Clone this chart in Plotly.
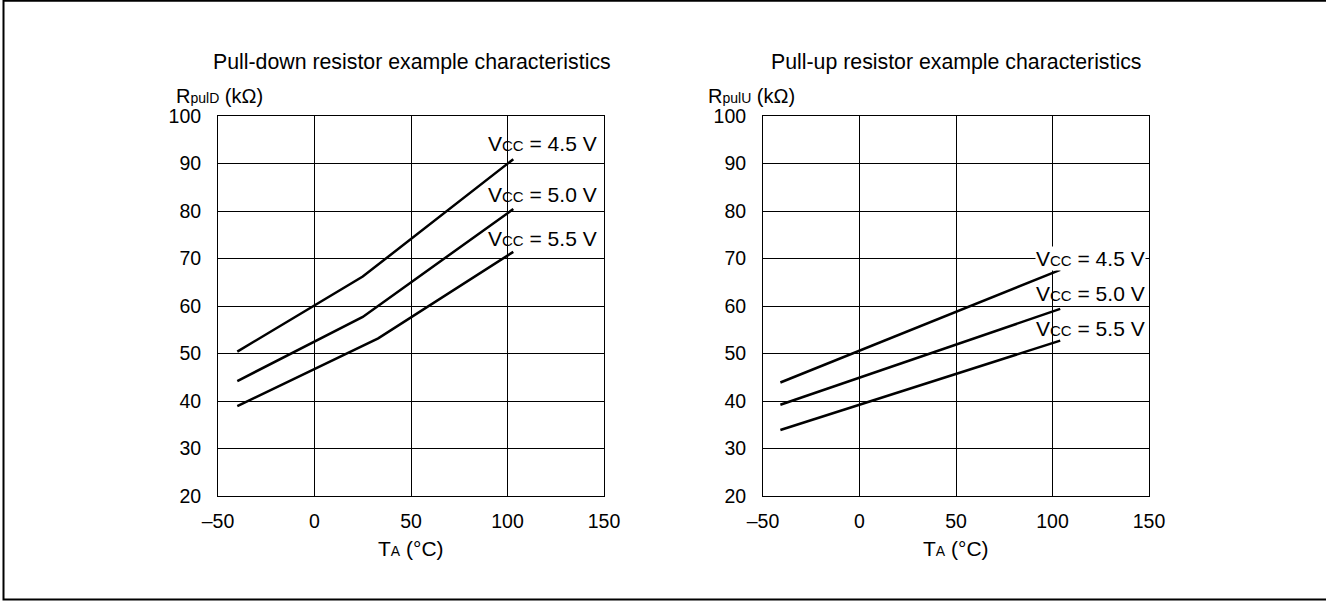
import plotly.graph_objects as go

W, H = 1326, 601

# ---- data ----
pd_temp_45 = [-40, 25, 103]
pd_res_45 = [50.4, 66.2, 90.9]
pd_temp_50 = [-40, 25, 103]
pd_res_50 = [44.2, 57.7, 80.4]
pd_temp_55 = [-40, 33, 103]
pd_res_55 = [38.9, 53.2, 71.4]

pu_temp = [-41, 104]
pu_res_45 = [43.9, 67.6]
pu_res_50 = [39.2, 59.4]
pu_res_55 = [33.9, 52.7]

x_tickvals = [-50, 0, 50, 100, 150]
x_ticktext = ["\u201350", "0", "50", "100", "150"]
y_tickvals = [20, 30, 40, 50, 60, 70, 80, 90, 100]

vcc_labels = ["4.5", "5.0", "5.5"]

FONT = "Liberation Sans, Arial, Helvetica, sans-serif"


def px(x):
    return x / W


def py(y):
    return 1 - y / H


fig = go.Figure()
line = dict(color="black", width=2.5)
for xs, ys in [(pd_temp_45, pd_res_45), (pd_temp_50, pd_res_50), (pd_temp_55, pd_res_55)]:
    fig.add_trace(go.Scatter(x=xs, y=ys, mode="lines", line=line, xaxis="x", yaxis="y",
                             showlegend=False, hoverinfo="skip"))
for ys in [pu_res_45, pu_res_50, pu_res_55]:
    fig.add_trace(go.Scatter(x=pu_temp, y=ys, mode="lines", line=line, xaxis="x2", yaxis="y2",
                             showlegend=False, hoverinfo="skip"))

ax_common = dict(showgrid=True, gridcolor="black", gridwidth=1, showline=True, linecolor="black",
                 linewidth=1, mirror=True, zeroline=False, ticks="", automargin=False,
                 tickfont=dict(family=FONT, size=19.5, color="black"))

xa = dict(ax_common, range=[-50, 150], tickvals=x_tickvals, ticktext=x_ticktext, ticklabelstandoff=8)
ya = dict(ax_common, range=[20, 100], tickvals=y_tickvals, ticklabelstandoff=12)

ydom = [py(496), py(116)]
fig.update_layout(
    template="none",
    width=W, height=H, autosize=False,
    margin=dict(l=0, r=0, t=0, b=0, pad=0, autoexpand=False),
    paper_bgcolor="white", plot_bgcolor="white",
    xaxis=dict(xa, domain=[px(218), px(604)], anchor="y"),
    yaxis=dict(ya, domain=ydom, anchor="x"),
    xaxis2=dict(xa, domain=[px(763), px(1149)], anchor="y2"),
    yaxis2=dict(ya, domain=ydom, anchor="x2"),
    showlegend=False,
)

ann = []
# titles
ttl_font = dict(family=FONT, size=21.3, color="black")
ann.append(dict(text="Pull-down resistor example characteristics", x=px(412), y=py(62),
                xref="paper", yref="paper", xanchor="center", yanchor="middle", showarrow=False,
                font=ttl_font))
ann.append(dict(text="Pull-up resistor example characteristics", x=px(956), y=py(62),
                xref="paper", yref="paper", xanchor="center", yanchor="middle", showarrow=False,
                font=ttl_font))
# y axis titles
yt_font = dict(family=FONT, size=20, color="black")
ann.append(dict(text="R<span style='font-size:14px'>pulD</span> (k\u03a9)", x=px(174), y=py(96.5),
                xref="paper", yref="paper", xanchor="left", yanchor="middle", showarrow=False, font=yt_font))
ann.append(dict(text="R<span style='font-size:14px'>pulU</span> (k\u03a9)", x=px(706), y=py(96.5),
                xref="paper", yref="paper", xanchor="left", yanchor="middle", showarrow=False, font=yt_font))
# x axis titles
xt_font = dict(family=FONT, size=21, color="black")
for cx in (411, 956):
    ann.append(dict(text="T<span style='font-size:14px'>A</span> (\u00b0C)", x=px(cx), y=py(548),
                    xref="paper", yref="paper", xanchor="center", yanchor="middle", showarrow=False,
                    font=xt_font))
# Vcc labels
v_font = dict(family=FONT, size=21, color="black")
left_y = [143, 195, 238]
right_y = [258, 293, 328]
for lab, yy in zip(vcc_labels, left_y):
    ann.append(dict(text="V<span style='font-size:15px'>CC</span> = " + lab + " V", x=px(599), y=py(yy),
                    xref="paper", yref="paper", xanchor="right", yanchor="middle", showarrow=False,
                    font=v_font))
for i, (lab, yy) in enumerate(zip(vcc_labels, right_y)):
    ann.append(dict(text="V<span style='font-size:15px'>CC</span> = " + lab + " V", x=px(1146), y=py(yy),
                    xref="paper", yref="paper", xanchor="right", yanchor="middle", showarrow=False,
                    font=v_font, bgcolor="white" if i == 0 else "rgba(0,0,0,0)", borderpad=0))
fig.update_layout(annotations=ann)

# outer frame
fig.add_shape(type="rect", xref="paper", yref="paper", x0=px(3.5), x1=px(1340), y0=py(599.5), y1=py(0.8),
              line=dict(color="black", width=2), fillcolor="rgba(0,0,0,0)", layer="above")

fig.write_html("out.html", config={"displayModeBar": False},
               post_script="document.body.style.margin='0px';")
